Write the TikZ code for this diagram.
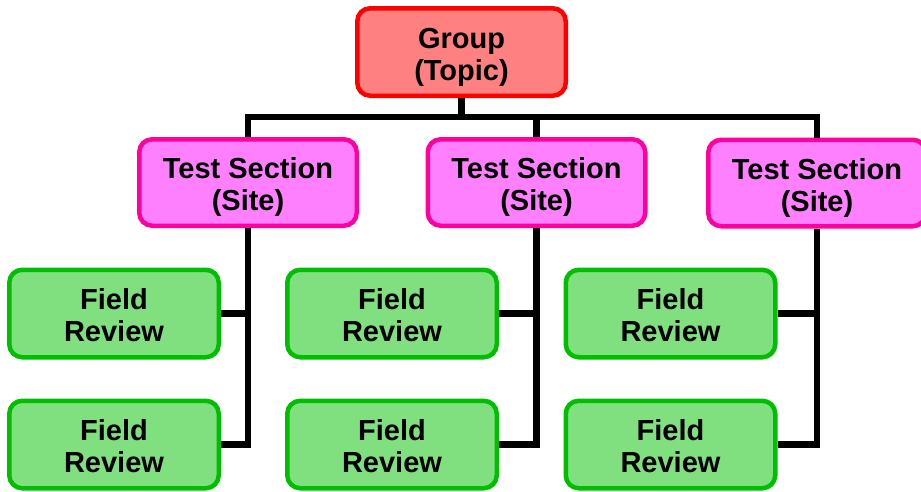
\documentclass[tikz,border=0pt]{standalone}
\usepackage{fontspec}
\setmainfont{Liberation Sans}
\usepackage{xcolor}
\definecolor{topicfill}{RGB}{255,128,128}
\definecolor{topicline}{RGB}{255,0,0}
\definecolor{sitefill}{RGB}{255,128,255}
\definecolor{siteline}{RGB}{255,0,160}
\definecolor{fieldfill}{RGB}{128,224,128}
\definecolor{fieldline}{RGB}{0,190,0}
\tikzstyle{box}=[rounded corners=13pt, line width=4.5pt, align=center, inner sep=0pt,
  text height=56pt, text depth=0pt, font=\fontsize{29}{32}\selectfont\bfseries]
\tikzset{topic/.style={box, draw=topicline, fill=topicfill, minimum width=208.5pt, minimum height=87.5pt}}
\tikzset{site/.style={box, draw=siteline, fill=sitefill, minimum width=217.5pt, minimum height=86.5pt}}
\tikzset{field/.style={box, draw=fieldline, fill=fieldfill, minimum width=209.5pt, minimum height=87.5pt}}
\tikzset{link/.style={line width=6.5pt, black}}

\begin{document}
\begin{tikzpicture}[x=1pt, y=-1pt]
  \useasboundingbox (0,0) rectangle (921,491);

  \draw (461.5,52) node[topic] (group) {Group\\(Topic)};

  \draw (248,182.5) node[site] (site1) {Test Section\\(Site)};
  \draw (536.5,182.5) node[site] (site2) {Test Section\\(Site)};
  \draw (817,183) node[site] (site3) {Test Section\\(Site)};

  \draw (114,313.5) node[field] (field11) {Field\\Review};
  \draw (114,444.5) node[field] (field12) {Field\\Review};
  \draw (392,313.5) node[field] (field21) {Field\\Review};
  \draw (392,444.5) node[field] (field22) {Field\\Review};
  \draw (670.5,313.5) node[field] (field31) {Field\\Review};
  \draw (670.5,444.5) node[field] (field32) {Field\\Review};

  %% Group to sites
  \coordinate (busL) at (248,117);
  \coordinate (busR) at (817,117);
  \draw[link, line cap=rect] (busL) -- (busR);
  \draw[link] (group.south) -- (group.south |- busL);
  \draw[link] (busL) -- (site1.north);
  \draw[link] (site2.north |- busL) -- (site2.north);
  \draw[link] (busR) -- (site3.north);

  %% Sites to field reviews
  \draw[link] (site1.south) -- (site1.south |- field12.east) -- (field12.east);
  \draw[link] (field11.east) -- (field11.east -| site1.south);
  \draw[link] (site2.south) -- (site2.south |- field22.east) -- (field22.east);
  \draw[link] (field21.east) -- (field21.east -| site2.south);
  \draw[link] (site3.south) -- (site3.south |- field32.east) -- (field32.east);
  \draw[link] (field31.east) -- (field31.east -| site3.south);
\end{tikzpicture}
\end{document}
